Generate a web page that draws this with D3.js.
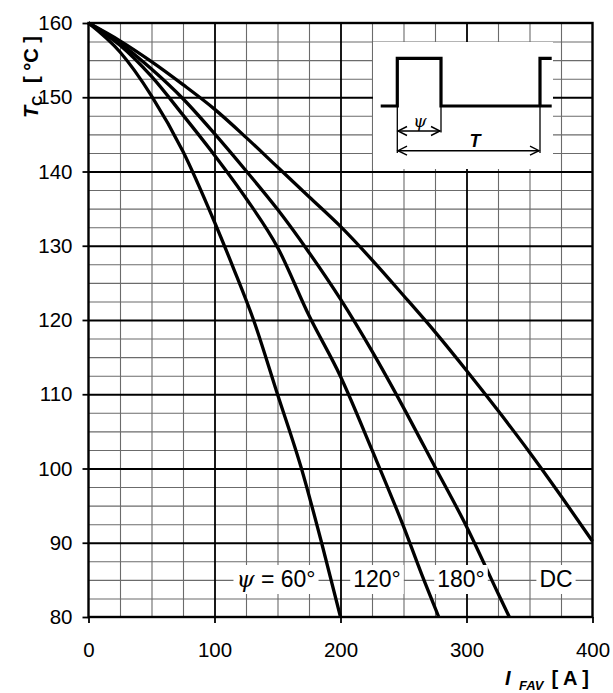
<!DOCTYPE html>
<html><head><meta charset="utf-8">
<script src="https://cdn.jsdelivr.net/npm/d3@7"></script>
<style>body{margin:0;background:#fff}svg{display:block}</style>
</head><body><div id="chart"></div>
<script>
// ---- data ----
const currentTicks = [0, 100, 200, 300, 400];
const tempTicks = [80, 90, 100, 110, 120, 130, 140, 150, 160];
const curveLabels = ["60°", "120°", "180°", "DC"];

const I_60  = [0, 25, 50, 75, 100, 115, 131, 150, 169, 185, 200];
const T_60  = [160, 156.1, 150.2, 142.7, 133.2, 127, 120, 110, 100, 90, 80];
const I_120 = [0, 25, 50, 75, 100, 125, 150, 175, 200, 225, 250, 265, 278];
const T_120 = [160, 157, 152.8, 147.6, 142.2, 136.4, 129.8, 120.6, 112.4, 102.5, 92.2, 85.5, 80];
const I_180 = [0, 25, 50, 75, 100, 125, 150, 175, 200, 225, 250, 275, 300, 325, 334];
const T_180 = [160, 157.3, 153.8, 149.8, 145.1, 140.1, 134.9, 129.1, 122.8, 115.8, 108.2, 100.2, 92.2, 83.2, 80];
const I_DC  = [0, 25, 50, 75, 100, 125, 150, 175, 200, 225, 250, 275, 300, 325, 350, 375, 400];
const T_DC  = [160, 157.6, 154.8, 151.7, 148.4, 144.6, 140.6, 136.6, 132.6, 128.1, 123.3, 118.4, 113.2, 107.8, 102.2, 96.3, 90.2];

const series = [[I_60, T_60], [I_120, T_120], [I_180, T_180], [I_DC, T_DC]];

// ---- layout ----
const W = 613, H = 693;
const L = 88.5, R = 592.5, T = 23, B = 617;
const FONT = "Arial, 'Liberation Sans', sans-serif";

const svg = d3.select("#chart").append("svg").attr("width", W).attr("height", H)
  .style("font-family", FONT);

const x = d3.scaleLinear().domain([0, 400]).range([L, R]);
const y = d3.scaleLinear().domain([80, 160]).range([B, T]);

// minor grid
const minorX = d3.range(25, 400, 25).filter(v => v % 100 !== 0);
const minorY = d3.range(82.5, 160, 2.5).filter(v => v % 10 !== 0);
svg.append("g").attr("transform", `translate(0,${B})`)
  .call(d3.axisBottom(x).tickValues(minorX).tickSize(-(B - T)).tickFormat(""))
  .call(g => g.select(".domain").remove())
  .call(g => g.selectAll("line").attr("stroke", "#6b6b6b").attr("stroke-width", 1.1));
svg.append("g").attr("transform", `translate(${L},0)`)
  .call(d3.axisLeft(y).tickValues(minorY).tickSize(-(R - L)).tickFormat(""))
  .call(g => g.select(".domain").remove())
  .call(g => g.selectAll("line").attr("stroke", "#6b6b6b").attr("stroke-width", 1.1));

// major grid
svg.append("g").attr("transform", `translate(0,${B})`)
  .call(d3.axisBottom(x).tickValues(currentTicks.slice(1, -1)).tickSize(-(B - T)).tickFormat(""))
  .call(g => g.select(".domain").remove())
  .call(g => g.selectAll("line").attr("stroke", "#000").attr("stroke-width", 1.8));
svg.append("g").attr("transform", `translate(${L},0)`)
  .call(d3.axisLeft(y).tickValues(tempTicks.slice(1, -1)).tickSize(-(R - L)).tickFormat(""))
  .call(g => g.select(".domain").remove())
  .call(g => g.selectAll("line").attr("stroke", "#000").attr("stroke-width", 1.8));

// inset white box
const inset = svg.append("g");
inset.append("rect").attr("x", 373).attr("y", 42).attr("width", 180).attr("height", 127).attr("fill", "#fff");

// axes with ticks and labels
const xAxis = svg.append("g").attr("transform", `translate(0,${B})`)
  .call(d3.axisBottom(x).tickValues(currentTicks).tickSize(6).tickPadding(19).tickSizeOuter(0));
xAxis.select(".domain").remove();
xAxis.selectAll("line").attr("stroke", "#000").attr("stroke-width", 1.8);
xAxis.selectAll("text").attr("font-size", 20.5).attr("font-family", FONT).attr("fill", "#000");

const yAxis = svg.append("g").attr("transform", `translate(${L},0)`)
  .call(d3.axisLeft(y).tickValues(tempTicks).tickSize(6).tickPadding(10).tickSizeOuter(0));
yAxis.select(".domain").remove();
yAxis.selectAll("line").attr("stroke", "#000").attr("stroke-width", 1.8);
yAxis.selectAll("text").attr("font-size", 20.5).attr("font-family", FONT).attr("fill", "#000");

// frame
svg.append("rect").attr("x", L).attr("y", T).attr("width", R - L).attr("height", B - T)
  .attr("fill", "none").attr("stroke", "#000").attr("stroke-width", 2.4);

// curves
const line = d3.line().x(d => x(d[0])).y(d => y(d[1])).curve(d3.curveMonotoneX);
series.forEach(([I, Tc]) => {
  const pts = I.map((v, i) => [v, Tc[i]]);
  svg.append("path").datum(pts).attr("d", line)
    .attr("fill", "none").attr("stroke", "#000").attr("stroke-width", 3.3)
    .attr("stroke-linejoin", "round");
});

// curve labels with white backgrounds
const labelY = 587;
const labelCx = [276, 377, 461, 556];
curveLabels.forEach((lab, i) => {
  const g = svg.append("g");
  const t = g.append("text").attr("x", labelCx[i]).attr("y", labelY)
    .attr("text-anchor", "middle").attr("font-size", 23).attr("fill", "#000");
  if (i === 0) {
    t.append("tspan").attr("font-style", "italic").attr("font-family", "'DejaVu Serif', serif").text("ψ");
    t.append("tspan").text(" = " + lab);
  } else {
    t.text(lab);
  }
  const bb = t.node().getBBox();
  g.insert("rect", "text").attr("x", bb.x - 3).attr("y", labelY - 22)
    .attr("width", bb.width + 6).attr("height", 29).attr("fill", "#fff");
});

// inset waveform
const wf = inset.append("g").attr("fill", "none").attr("stroke", "#000");
wf.append("path").attr("d", "M380.7,106 H397.3 V58.3 H441 V106 H540 V58.3 H551.7 M540,106 H551.7")
  .attr("stroke-width", 3.2).attr("stroke-linejoin", "miter");
wf.append("path").attr("d", "M397.3,106 V153 M441,106 V132.5 M540,106 V153")
  .attr("stroke-width", 1.3);
wf.append("path").attr("d", "M398,131 H440 M398,150.7 H539").attr("stroke-width", 1.4);
wf.append("path").attr("d", "M407,126.5 L398,131 L407,135.5 M431,126.5 L440,131 L431,135.5 M407,146.2 L398,150.7 L407,155.2 M530,146.2 L539,150.7 L530,155.2")
  .attr("stroke-width", 1.4);
inset.append("text").attr("x", 420).attr("y", 127).attr("text-anchor", "middle")
  .attr("font-size", 17).attr("font-style", "italic").attr("font-family", "'DejaVu Serif', serif").text("ψ");
inset.append("text").attr("x", 475).attr("y", 147).attr("text-anchor", "middle")
  .attr("font-size", 18).attr("font-style", "italic").attr("font-weight", "bold").text("T");

// axis titles
const yt = svg.append("text").attr("transform", "translate(38,118) rotate(-90)")
  .attr("font-size", 20).attr("font-weight", "bold").attr("fill", "#000");
yt.append("tspan").attr("font-style", "italic").text("T");
yt.append("tspan").attr("font-size", 14).attr("dy", 4).text("C");
yt.append("tspan").attr("x", 35).attr("dy", -4).attr("xml:space", "preserve").text("[ °C ]");

const xt = svg.append("g").attr("font-size", 20).attr("font-weight", "bold").attr("fill", "#000");
xt.append("text").attr("x", 505).attr("y", 685).attr("font-style", "italic").text("I");
xt.append("text").attr("x", 519).attr("y", 690).attr("font-size", 13).attr("font-style", "italic").text("FAV");
xt.append("text").attr("x", 589).attr("y", 685).attr("text-anchor", "end").text("[ A ]");
</script></body></html>
